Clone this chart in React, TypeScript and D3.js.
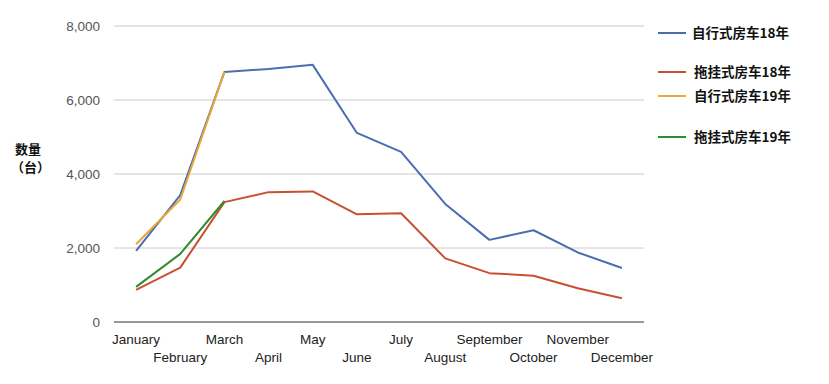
import { useRef, useEffect } from 'react';
import * as d3 from 'd3';

const months = ['January', 'February', 'March', 'April', 'May', 'June', 'July', 'August', 'September', 'October', 'November', 'December'];
const motorhome18 = [1920, 3430, 6760, 6840, 6950, 5110, 4600, 3190, 2220, 2480, 1880, 1460];
const trailer18 = [870, 1470, 3240, 3510, 3530, 2910, 2940, 1720, 1320, 1250, 910, 640];
const motorhome19 = [2100, 3310, 6760];
const trailer19 = [950, 1840, 3270];
const yTicks = [0, 2000, 4000, 6000, 8000];

const seriesNames = ['自行式房车18年', '拖挂式房车18年', '自行式房车19年', '拖挂式房车19年'];
const seriesColors = ['#4a6eb0', '#c8502f', '#eaa63a', '#2f8a34'];
const seriesValues = [motorhome18, trailer18, motorhome19, trailer19];
const legendY = [33, 72, 96, 137];

const FONT = '"Liberation Sans", Arial, sans-serif';
const CJK = '"Noto Sans CJK SC", sans-serif';

export default function App() {
    const svgRef = useRef<SVGSVGElement>(null);

    useEffect(() => {
        if (!svgRef.current) return;
        const svg = d3.select(svgRef.current);
        svg.selectAll('*').remove();

        const left = 114, right = 644, top = 26, bottom = 322;

        const x = d3.scaleBand<string>().domain(months).range([left, right]);
        const cx = (m: string) => (x(m) as number) + x.bandwidth() / 2;
        const y = d3.scaleLinear().domain([0, 8000]).range([bottom, top]);

        // gridlines
        svg.append('g')
            .selectAll('line')
            .data(yTicks.filter(t => t > 0))
            .enter()
            .append('line')
            .attr('x1', left)
            .attr('x2', right)
            .attr('y1', d => y(d))
            .attr('y2', d => y(d))
            .attr('stroke', '#cccccc')
            .attr('stroke-width', 1);

        // y tick labels
        svg.append('g')
            .selectAll('text')
            .data(yTicks)
            .enter()
            .append('text')
            .attr('x', 100)
            .attr('y', d => y(d))
            .attr('dy', '0.35em')
            .attr('text-anchor', 'end')
            .attr('fill', '#555')
            .style('font-family', FONT)
            .style('font-size', '13.5px')
            .text(d => d3.format(',')(d));

        // baseline
        svg.append('line')
            .attr('x1', left)
            .attr('x2', right)
            .attr('y1', y(0))
            .attr('y2', y(0))
            .attr('stroke', '#333')
            .attr('stroke-width', 1.2);

        // x labels, staggered in two rows
        svg.append('g')
            .selectAll('text')
            .data(months)
            .enter()
            .append('text')
            .attr('x', d => cx(d))
            .attr('y', (d, i) => (i % 2 === 0 ? 339 : 357))
            .attr('dy', '0.35em')
            .attr('text-anchor', 'middle')
            .attr('fill', '#222')
            .style('font-family', FONT)
            .style('font-size', '13.5px')
            .text(d => d);

        // lines
        const line = d3.line<number>()
            .x((d, i) => cx(months[i]))
            .y(d => y(d));

        svg.append('g')
            .selectAll('path')
            .data(seriesValues)
            .enter()
            .append('path')
            .attr('d', d => line(d) as string)
            .attr('fill', 'none')
            .attr('stroke', (d, i) => seriesColors[i])
            .attr('stroke-width', 2)
            .attr('stroke-linejoin', 'round');

        // y axis title
        const title = svg.append('text')
            .attr('fill', '#111')
            .style('font-family', CJK)
            .style('font-size', '13px')
            .style('font-weight', 'bold');
        title.append('tspan').attr('x', 15).attr('y', 154).text('数量');
        title.append('tspan').attr('x', 11).attr('y', 172).text('（台）');

        // legend
        const legend = svg.append('g')
            .selectAll('g')
            .data(seriesNames)
            .enter()
            .append('g')
            .attr('transform', (d, i) => `translate(658, ${legendY[i]})`);

        legend.append('line')
            .attr('x1', 0)
            .attr('x2', 28)
            .attr('stroke', (d, i) => seriesColors[i])
            .attr('stroke-width', 2);

        legend.append('text')
            .attr('x', (d, i) => (i === 0 ? 34 : 36))
            .attr('dy', '0.35em')
            .attr('fill', '#111')
            .style('font-family', CJK)
            .style('font-size', '13.5px')
            .style('font-weight', 600)
            .text(d => d);
    }, []);

    return (
        <svg ref={svgRef} width={829} height={384} style={{ position: 'absolute', left: 0, top: 0, background: '#fff' }}></svg>
    );
}
